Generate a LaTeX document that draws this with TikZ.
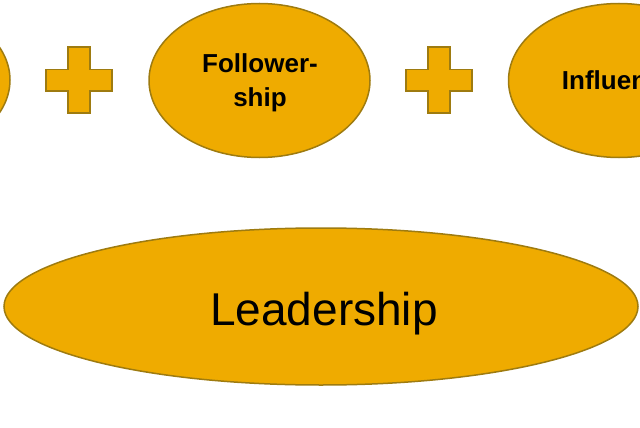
\documentclass[tikz,border=0pt]{standalone}
\usepackage{fontspec}
\setmainfont{Liberation Sans}
\usetikzlibrary{shapes.geometric}
\definecolor{gold}{HTML}{EFAB00}
\definecolor{goldedge}{HTML}{9E7B10}
\tikzset{
  oval/.style={ellipse, draw=goldedge, fill=gold, line width=1.5pt, inner sep=0pt, align=center, text=black},
  smalloval/.style={oval, minimum width=221pt, minimum height=154pt, font=\bfseries\fontsize{26}{33.5}\selectfont},
  plussign/.style={draw=goldedge, fill=gold, line width=1.5pt}
}
\begin{document}
\begin{tikzpicture}[x=1pt,y=-1pt]
\useasboundingbox (0,0) rectangle (640,428);
\clip (0,0) rectangle (640,428);
\node[smalloval] (left) at (-100.5,80) {};
\node[smalloval] (follow) at (259.5,80.5) {};
\node[font=\bfseries\fontsize{26}{33.5}\selectfont, align=center, inner sep=0pt] (followtext) at (260,83) {Follower-\\ship};
\node[smalloval] (infl) at (619,80.5) {Influence};
\node[oval, minimum width=634pt, minimum height=157pt] (lead) at (321,306.5) {};
\node[font=\fontsize{46}{50}\selectfont, inner sep=0pt, text depth=0pt] (leadtext) at (324,309) {Leadership};
\foreach \cx in {79,439}{
  \draw[plussign] (\cx-11,47) -- (\cx+11,47) -- (\cx+11,69.5) -- (\cx+33,69.5) -- (\cx+33,91) -- (\cx+11,91) -- (\cx+11,113) -- (\cx-11,113) -- (\cx-11,91) -- (\cx-33,91) -- (\cx-33,69.5) -- (\cx-11,69.5) -- cycle;
}
\end{tikzpicture}
\end{document}
